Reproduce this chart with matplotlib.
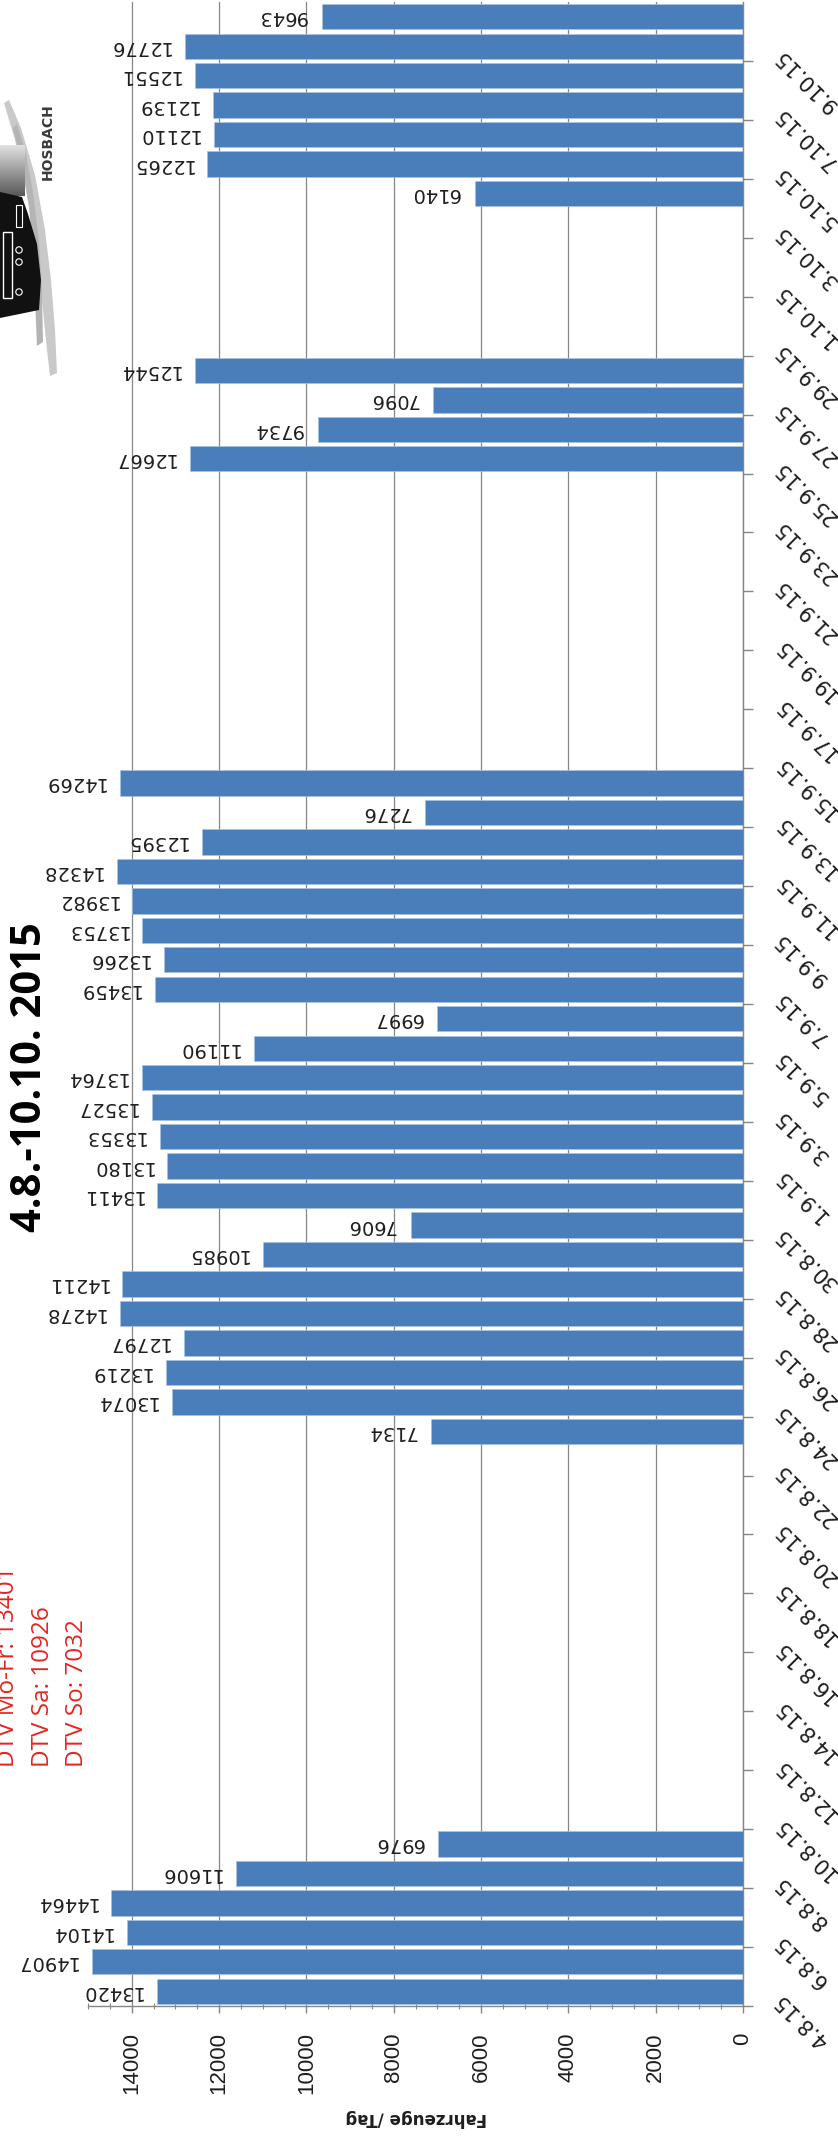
import matplotlib
matplotlib.use("Agg")
import matplotlib.pyplot as plt
import numpy as np
import pandas as pd
from matplotlib.patches import Polygon, Rectangle, Circle
from matplotlib.transforms import ScaledTranslation

plt.rcParams["font.family"] = ["DejaVu Sans"]

W, H, DPI = 838, 2136, 100

# counting period and the four measuring runs (daily traffic, vehicles per day)
PERIOD_START = "2015-08-04"
PERIOD_END = "2015-10-10"
RUN_STARTS = ["2015-08-04", "2015-08-23", "2015-09-25", "2015-10-04"]
RUN_1 = [13420, 14907, 14104, 14464, 11606, 6976]
RUN_2 = [7134, 13074, 13219, 12797, 14278, 14211, 10985, 7606, 13411, 13180,
         13353, 13527, 13764, 11190, 6997, 13459, 13266, 13753, 13982, 14328,
         12395, 7276, 14269]
RUN_3 = [12667, 9734, 7096, 12544]
RUN_4 = [6140, 12265, 12110, 12139, 12551, 12776, 9643]

DTV_DAYS = ["Mo-Fr", "Sa", "So"]
DTV_VALUES = [13401, 10926, 7032]

TITLE = "4.8.-10.10. 2015"
VALUE_LABEL = "Fahrzeuge /Tag"
VALUE_TICKS = [0, 2000, 4000, 6000, 8000, 10000, 12000, 14000]
VALUE_MAX = 15000

BAR_COLOR = "#4a7ebb"
BAR_EDGE = "#a9c1e0"
AXIS_GREY = "#868686"
TEXT_DARK = "#1e1e1e"
DTV_RED = "#e3261f"


def fig_xy(x, y):
    """Pixel position (from top left) to figure fraction."""
    return x / W, 1 - y / H


start = pd.Timestamp(PERIOD_START)
n_days = (pd.Timestamp(PERIOD_END) - start).days + 1

day_index, counts = [], []
for run_start, values in zip(RUN_STARTS, [RUN_1, RUN_2, RUN_3, RUN_4]):
    first = (pd.Timestamp(run_start) - start).days
    for k, v in enumerate(values):
        day_index.append(first + k)
        counts.append(v)

fig = plt.figure(figsize=(W / DPI, H / DPI), dpi=DPI)
fig.patch.set_facecolor("white")

# plot area: value axis runs right-to-left, days run bottom-to-top
left_px, right_px, top_px, bottom_px = 88, 743, 2, 2006
ax = fig.add_axes([left_px / W, 1 - bottom_px / H,
                   (right_px - left_px) / W, (bottom_px - top_px) / H])

ax.barh(day_index, counts, height=0.86, color=BAR_COLOR, edgecolor=BAR_EDGE,
        linewidth=0.5, zorder=3)
ax.set_xlim(VALUE_MAX, 0)
ax.set_ylim(-0.5, n_days - 0.5)

ax.set_xticks(VALUE_TICKS, labels=[str(v) for v in VALUE_TICKS])
ax.set_xticks(np.arange(0, VALUE_MAX + 1, 500), minor=True)
ax.xaxis.grid(True, which="major", color=AXIS_GREY, linewidth=0.9, zorder=0)
ax.set_axisbelow(True)

for side in ("left", "top"):
    ax.spines[side].set_visible(False)
for side in ("bottom", "right"):
    ax.spines[side].set_color(AXIS_GREY)
    ax.spines[side].set_linewidth(1.0)

ax.tick_params(axis="x", which="major", direction="out", length=5, width=1,
               color=AXIS_GREY, pad=14, labelsize=16, labelrotation=90,
               labelcolor=TEXT_DARK)
ax.tick_params(axis="x", which="minor", direction="inout", length=5, width=0.8,
               color=AXIS_GREY)
for lbl in ax.get_xticklabels():
    lbl.set_fontfamily("Liberation Sans")

# date ticks every second day on the slot boundaries
ax.yaxis.tick_right()
tick_days = list(range(0, n_days - 1, 2))
tick_dates = [start + pd.Timedelta(days=i) for i in tick_days]
tick_labels = [f"{d.day}.{d.month}.{d:%y}" for d in tick_dates]
ax.set_yticks([i - 0.5 for i in tick_days], labels=tick_labels,
              rotation=135, rotation_mode="anchor", ha="right", va="center")
ax.tick_params(axis="y", which="major", direction="out", length=7, width=1,
               color=AXIS_GREY, pad=18, labelsize=15, labelcolor=TEXT_DARK)
shift_up = ScaledTranslation(0, 9.5 / DPI, fig.dpi_scale_trans)
for lbl in ax.get_yticklabels():
    lbl.set_transform(lbl.get_transform() + shift_up)

# value labels beyond the bar ends, upside down
for d, v in zip(day_index, counts):
    ax.annotate(str(v), xy=(v, d), xytext=(-10.8, 0), textcoords="offset points",
                rotation=180, rotation_mode="anchor", ha="left", va="center",
                fontsize=14, color=TEXT_DARK, zorder=4)

fig.text(*fig_xy(416, 2118), VALUE_LABEL, rotation=180, ha="center",
         va="center", fontsize=12, fontweight="bold", color=TEXT_DARK)

fig.text(*fig_xy(31, 1077), TITLE, rotation=90, ha="center", va="center",
         fontsize=30, fontweight="bold", family="Open Sans", color="black")

for k, (day, val) in enumerate(zip(DTV_DAYS, DTV_VALUES)):
    fig.text(*fig_xy(14 + 34.5 * k, 1767), f"DTV {day}: {val}", rotation=90,
             rotation_mode="anchor", ha="left", va="baseline", fontsize=17.5,
             family="Open Sans", color=DTV_RED)

# company logo in the upper left corner
lax = fig.add_axes([0, 0, 1, 1])
lax.axis("off")
outer = [(4, 103), (15, 140), (26, 190), (35, 245), (42, 300), (47, 350),
         (50, 376), (57, 373), (55, 330), (51, 280), (45, 230), (35, 175),
         (21, 128), (9, 100)]
inner = [(13, 128), (22, 165), (29, 205), (33, 255), (35, 300), (37, 346),
         (43, 342), (42, 292), (39, 242), (33, 192), (25, 150), (17, 124)]
lax.add_patch(Polygon(outer, closed=True, facecolor="#c9c9c9", edgecolor="none"))
lax.add_patch(Polygon(inner, closed=True, facecolor="#b4b4b4", edgecolor="none"))
shade = np.linspace(0.88, 0.35, 40).reshape(-1, 1)
lax.imshow(shade, cmap="gray", vmin=0, vmax=1, extent=(0, 24, 196, 145),
           aspect="auto", zorder=1)
truck = [(0, 192), (22, 197), (28, 214), (37, 244), (41, 280), (39, 310), (0, 318)]
lax.add_patch(Polygon(truck, closed=True, facecolor="#111111", edgecolor="none",
                      zorder=2))
lax.add_patch(Rectangle((3, 232), 9, 66, facecolor="none", edgecolor="white",
                        linewidth=1.0, zorder=3))
lax.add_patch(Rectangle((16, 205), 6, 22, facecolor="none", edgecolor="white",
                        linewidth=0.8, zorder=3))
for cy in (250, 262, 292):
    lax.add_patch(Circle((19, cy), 3.2, facecolor="none", edgecolor="white",
                         linewidth=0.8, zorder=3))
lax.text(48, 142, "HOSBACH", rotation=90, ha="center", va="center",
         fontsize=10, fontweight="bold", color="#3a3a3a")
lax.set_xlim(0, W)
lax.set_ylim(H, 0)

fig.savefig("out.png", dpi=DPI, facecolor="white")
